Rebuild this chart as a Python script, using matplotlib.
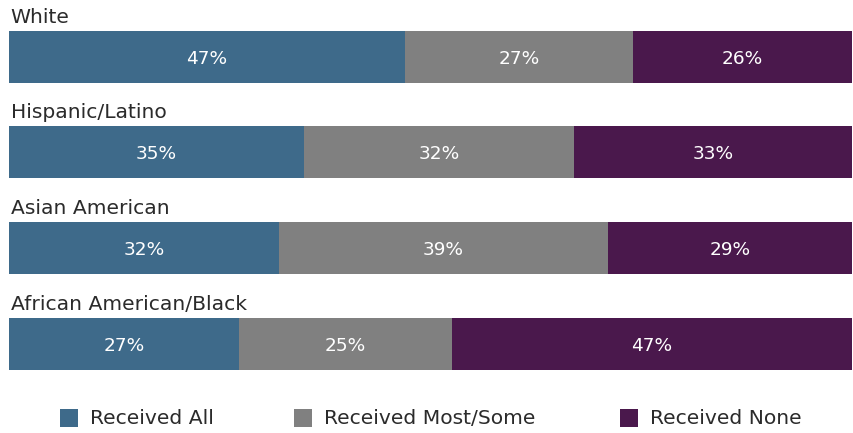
import numpy as np
import matplotlib
matplotlib.use("Agg")
import matplotlib.pyplot as plt
from matplotlib.patches import Rectangle

# データ
groups = ["White", "Hispanic/Latino", "Asian American", "African American/Black"]
received_all = [47, 35, 32, 27]
received_most = [27, 32, 39, 25]
received_none = [26, 33, 29, 47]
series_names = ["Received All", "Received Most/Some", "Received None"]
colors = ["#3e6a8a", "#808080", "#4a184c"]

plt.rcParams['font.family'] = ['DejaVu Sans']

W, H = 854, 433
fig = plt.figure(figsize=(W / 100, H / 100), dpi=100)
# 棒の領域に合わせた軸 (x: 0-1, y: ピクセル)
x0, x1 = 9, 852
ax = fig.add_axes([x0 / W, 0, (x1 - x0) / W, 1])
ax.set_xlim(0, 1)
ax.set_ylim(H, 0)
ax.axis("off")

data = np.array([received_all, received_most, received_none], dtype=float)
totals = data.sum(axis=0)
frac = data / totals

ys = [57, 152, 248, 344]
bar_h = 52
left = np.zeros(len(groups))
for i in range(3):
    ax.barh(ys, frac[i], left=left, height=bar_h, color=colors[i], linewidth=0)
    for j, y in enumerate(ys):
        ax.text(left[j] + frac[i][j] / 2, y + 7, "%d%%" % data[i][j], ha="center",
                va="baseline", color="white", fontsize=13.3)
    left += frac[i]

# 各グループのラベル
for g, y in zip(groups, ys):
    ax.text(0.002, y - 34, g, ha="left", va="baseline", fontsize=14.6, color="#2b2b2b")

# 凡例
leg_x = [60, 294, 620]
for name, c, lx in zip(series_names, colors, leg_x):
    fig.patches.append(Rectangle((lx / W, 1 - 427 / H), 18 / W, 18 / H,
                                 transform=fig.transFigure, color=c, linewidth=0))
    fig.text((lx + 30) / W, 1 - 424 / H, name, ha="left", va="baseline",
             fontsize=14.6, color="#2b2b2b")

fig.savefig("out.png", dpi=100)
